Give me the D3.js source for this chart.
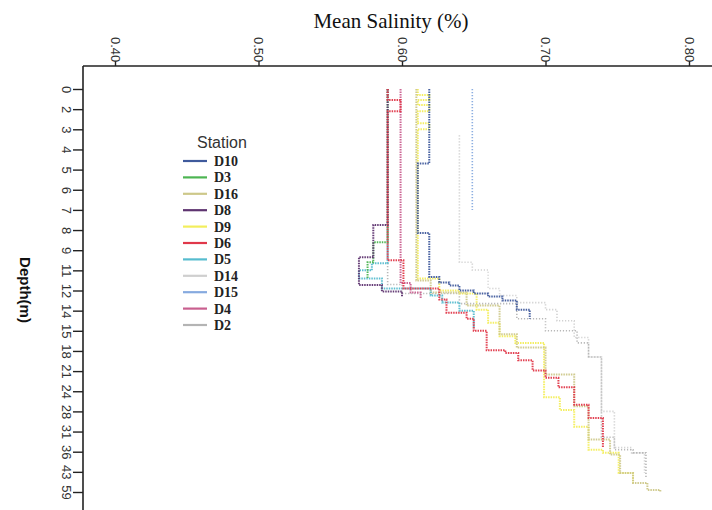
<!DOCTYPE html>
<html>
<head>
<meta charset="utf-8">
<script src="https://cdn.jsdelivr.net/npm/d3@7"></script>
<style>
  html, body { margin: 0; padding: 0; background: #fff; }
  svg { display: block; }
</style>
</head>
<body>
<svg id="chart" width="712" height="510"></svg>
<script>
// ---------------- DATA ----------------
const depthTicks = [0, 2, 3, 4, 5, 6, 7, 8, 9, 11, 12, 14, 15, 18, 21, 24, 28, 31, 36, 43, 59];
const salinityTicks = [0.40, 0.50, 0.60, 0.70, 0.80];
const stationNames = ["D10", "D3", "D16", "D8", "D9", "D6", "D5", "D14", "D15", "D4", "D2"];
const stationColors = ["#3f5a9c", "#4db552", "#cdc88a", "#5e3470", "#f3ee5c", "#e0384a",
                       "#56bccf", "#cfcfcf", "#86aadf", "#c95f8f", "#b4b4b4"];

// profiles: [depth (m), mean salinity] - salinity holds from that depth until the next row
const D10 = [[0, 0.619], [4.7, 0.611], [8.15, 0.619], [11.33, 0.626], [11.6, 0.633], [11.75, 0.640],
             [12.0, 0.650], [12.3, 0.660], [12.6, 0.670], [13.0, 0.680], [13.9, 0.689], [14.4, 0.689]];
const D3  = [[0, 0.590], [8.6, 0.580], [10.2, 0.576], [11.4, 0.576]];
const D16 = [[0, 0.610], [11.5, 0.620], [12.2, 0.645], [13.5, 0.668], [15.5, 0.680], [17.5, 0.700],
             [21.5, 0.720], [27, 0.730], [33, 0.745], [37, 0.752], [44, 0.761], [51.8, 0.771],
             [57.4, 0.780], [59, 0.780]];
const D8  = [[0, 0.590], [7.75, 0.580], [9.7, 0.570], [11.73, 0.586], [12.1, 0.600], [12.6, 0.600]];
const D9  = [[0, 0.611], [0.6, 0.619], [1.1, 0.611], [1.6, 0.619], [2.1, 0.611], [2.7, 0.619],
             [3.0, 0.611], [11.4, 0.626], [12.0, 0.640], [12.3, 0.652], [13.9, 0.660], [14.6, 0.668],
             [15.8, 0.679], [16.8, 0.699], [25.2, 0.710], [27.7, 0.720], [30.3, 0.730], [35.5, 0.740],
             [36.4, 0.751], [44, 0.761], [51.8, 0.761]];
const D6  = [[0, 0.590], [1.1, 0.599], [2.1, 0.590], [10.0, 0.601], [11.9, 0.626], [12.9, 0.631],
             [14.1, 0.645], [14.4, 0.650], [15.0, 0.659], [17.9, 0.672], [18.3, 0.681], [19.4, 0.691],
             [20.9, 0.700], [22.0, 0.709], [23.4, 0.720], [26.7, 0.730], [29.0, 0.740], [35.1, 0.740]];
const D5  = [[7.6, 0.590], [10.3, 0.579], [11.0, 0.570], [11.4, 0.586], [11.9, 0.620], [12.5, 0.628],
             [13.2, 0.640], [14.0, 0.650], [14.9, 0.650]];
const D14 = [[3.3, 0.640], [10.2, 0.649], [10.96, 0.660], [11.9, 0.668], [12.5, 0.680], [13.2, 0.700],
             [13.9, 0.708], [14.5, 0.720], [16.0, 0.730], [18.9, 0.739], [28, 0.748], [35, 0.760],
             [36.4, 0.769], [44, 0.769]];
const D15 = [[0, 0.649], [7.0, 0.649]];
const D4  = [[0, 0.599], [11.63, 0.606], [12.2, 0.613], [12.8, 0.613]];
const D2  = [[0, 0.590], [11.7, 0.600], [12.3, 0.640], [13.3, 0.680], [14.4, 0.700], [15.0, 0.722],
             [16.8, 0.730], [18.9, 0.739], [24, 0.739], [32.4, 0.748], [35.5, 0.761], [36.4, 0.770],
             [47.2, 0.770]];

const profiles = { D10, D3, D16, D8, D9, D6, D5, D14, D15, D4, D2 };
const drawOrder = ["D14", "D15", "D2", "D9", "D16", "D5", "D4", "D3", "D8", "D6", "D10"];

// ---------------- LAYOUT ----------------
const svg = d3.select("#chart");
const frameLeft = 83, frameTop = 66;

const x = d3.scaleLinear().domain([0.40, 0.80]).range([115, 689]);
const y = d3.scaleLinear()
  .domain(depthTicks)
  .range(depthTicks.map((d, i) => 89 + i * 20.15));

const color = d3.scaleOrdinal().domain(stationNames).range(stationColors);

const defs = svg.append("defs");
defs.append("filter").attr("id", "soft")
  .append("feGaussianBlur").attr("stdDeviation", 0.3);

// frame lines
svg.append("line")
  .attr("x1", frameLeft).attr("x2", 720)
  .attr("y1", frameTop).attr("y2", frameTop)
  .attr("stroke", "#222").attr("stroke-width", 1.6);
svg.append("line")
  .attr("x1", frameLeft).attr("x2", frameLeft)
  .attr("y1", frameTop).attr("y2", 520)
  .attr("stroke", "#222").attr("stroke-width", 1.6);

// top x axis
const xAxis = svg.append("g")
  .attr("transform", `translate(0,${frameTop})`)
  .call(d3.axisTop(x).tickValues(salinityTicks).tickFormat(d3.format(".2f")).tickSize(5).tickSizeOuter(0));
xAxis.select(".domain").remove();
xAxis.selectAll(".tick line").attr("stroke", "#222").attr("stroke-width", 1.4);
xAxis.selectAll(".tick text")
  .attr("transform", "rotate(90)")
  .attr("x", -29).attr("y", 0).attr("dy", "0.35em")
  .attr("text-anchor", "start")
  .style("font-family", "Liberation Sans, Arial, sans-serif")
  .style("font-size", "13px").attr("fill", "#333");

// left y axis
const yAxis = svg.append("g")
  .attr("transform", `translate(${frameLeft},0)`)
  .call(d3.axisLeft(y).tickValues(depthTicks).tickFormat(d3.format("d")).tickSize(10).tickSizeOuter(0));
yAxis.select(".domain").remove();
yAxis.selectAll(".tick line").attr("stroke", "#222").attr("stroke-width", 1.4);
yAxis.selectAll(".tick text")
  .attr("transform", "rotate(90)")
  .attr("x", 0).attr("y", 21).attr("dy", "0")
  .attr("text-anchor", "middle")
  .style("font-family", "Liberation Sans, Arial, sans-serif")
  .style("font-size", "13px").attr("fill", "#333");

// titles
svg.append("text")
  .attr("x", 391).attr("y", 28)
  .attr("text-anchor", "middle")
  .style("font-family", "Liberation Serif, Times New Roman, serif")
  .style("font-size", "21px").attr("fill", "#111")
  .text("Mean Salinity (%)");

svg.append("text")
  .attr("transform", "translate(20,290) rotate(90)")
  .attr("text-anchor", "middle")
  .style("font-family", "Liberation Sans, Arial, sans-serif")
  .style("font-size", "15px").style("font-weight", "bold").attr("fill", "#111")
  .text("Depth(m)");

// data lines
const line = d3.line()
  .x(d => x(d[1]))
  .y(d => y(d[0]))
  .curve(d3.curveStepBefore);

const plot = svg.append("g").attr("filter", "url(#soft)");
drawOrder.forEach(name => {
  const light = (name === "D14" || name === "D15" || name === "D2");
  plot.append("path")
    .datum(profiles[name])
    .attr("d", line)
    .attr("fill", "none")
    .attr("stroke", color(name))
    .attr("stroke-width", light ? 1.6 : 2)
    .attr("stroke-dasharray", light ? "1.2,1.8" : "1.5,1")
    .attr("opacity", 0.95);
});

// legend
const legend = svg.append("g");
legend.append("text")
  .attr("x", 197).attr("y", 148)
  .style("font-family", "Liberation Sans, Arial, sans-serif")
  .style("font-size", "16px").attr("fill", "#333")
  .text("Station");
const rows = legend.selectAll("g.row").data(stationNames).enter().append("g")
  .attr("transform", (d, i) => `translate(0,${161 + i * 16.4})`);
rows.append("line")
  .attr("x1", 183).attr("x2", 207).attr("y1", 0).attr("y2", 0)
  .attr("stroke", d => color(d)).attr("stroke-width", 2.2);
rows.append("text")
  .attr("x", 214).attr("y", 0).attr("dy", "0.35em")
  .style("font-family", "Liberation Serif, Times New Roman, serif")
  .style("font-size", "14px").style("font-weight", "bold").attr("fill", "#222")
  .text(d => d);
</script>
</body>
</html>
